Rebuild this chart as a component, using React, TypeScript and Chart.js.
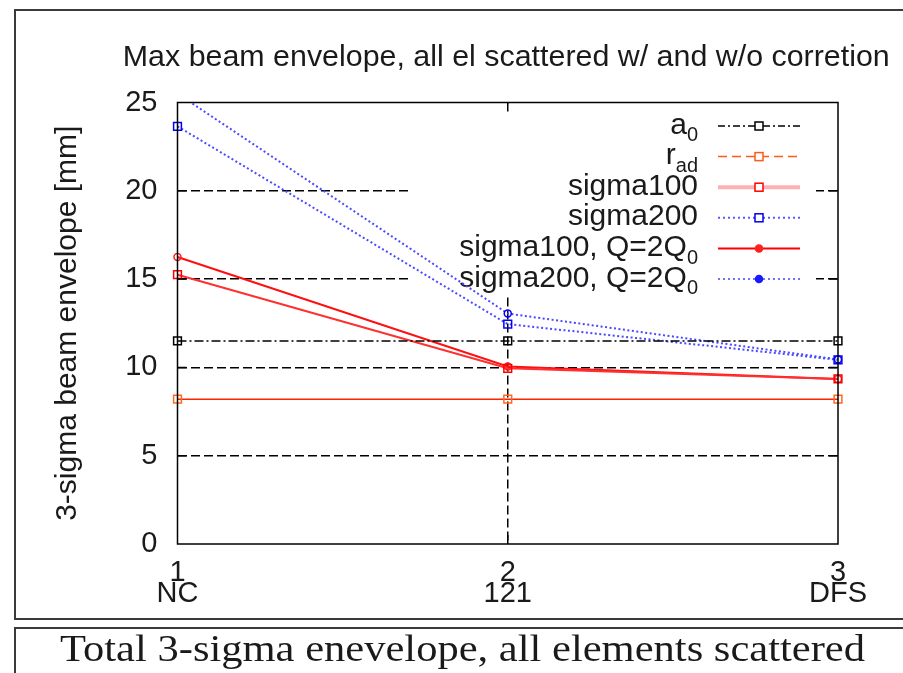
import React, { useEffect, useRef } from "react";
import { Chart, registerables } from "chart.js";

Chart.register(...registerables);

// ---- data ----
const categories = ["NC", "121", "DFS"];
const indexLabels = ["1", "2", "3"];
const a0 = [11.5, 11.5, 11.5];
const rAd = [8.2, 8.2, 8.2];
const sigma100 = [15.25, 9.95, 9.35];
const sigma200 = [23.65, 12.45, 10.43];
const sigma100Q = [16.25, 10.05, 9.35];
const sigma200Q = [25.5, 13.05, 10.45];
const yMin = 0;
const yMax = 25;
const yStep = 5;
const titleText = "Max beam envelope, all el scattered w/ and w/o corretion";
const yTitleText = "3-sigma beam envelope [mm]";
const captionText = "Total 3-sigma enevelope, all elements scattered";
const legendMain = ["a", "r", "sigma100", "sigma200", "sigma100, Q=2Q", "sigma200, Q=2Q"];
const legendSub = ["0", "ad", "", "", "0", "0"];

const FONT = "'Liberation Sans', Arial, Helvetica, sans-serif";
const SERIF = "'Liberation Serif', 'Times New Roman', serif";

type Sample = { line: string; width: number; dash: number[]; marker: string; shape: "rect" | "circle"; fill: boolean };
const legendSamples: Sample[] = [
  { line: "#000000", width: 1.5, dash: [7, 3, 2, 3], marker: "#000000", shape: "rect", fill: false },
  { line: "#ff5a1a", width: 1.5, dash: [9, 5], marker: "#ff5a1a", shape: "rect", fill: false },
  { line: "#ffb0b0", width: 4, dash: [], marker: "#ff0000", shape: "rect", fill: false },
  { line: "#5a5aff", width: 2, dash: [2, 3], marker: "#0000ee", shape: "rect", fill: false },
  { line: "#ff0000", width: 2, dash: [], marker: "#ff2020", shape: "circle", fill: true },
  { line: "#7070ff", width: 2, dash: [2, 3], marker: "#1a1aff", shape: "circle", fill: true },
];

const decorPlugin = {
  id: "decor",
  beforeDatasetsDraw(chart: any) {
    const { ctx, chartArea } = chart;
    const ca = chartArea;
    ctx.save();
    // opaque key box
    ctx.fillStyle = "#ffffff";
    ctx.fillRect(ca.left + 230.5, ca.top + 1, 408, 296 - ca.top);
    const rowY0 = ca.top + 23.5;
    const rowGap = 30.6;
    const textRight = ca.right - 140;
    const lx0 = ca.right - 120;
    const lx1 = ca.right - 38;
    const mx = ca.right - 79;
    for (let i = 0; i < legendMain.length; i++) {
      const y = rowY0 + i * rowGap;
      const main = legendMain[i];
      const sub = legendSub[i];
      ctx.font = `30px ${FONT}`;
      const wMain = ctx.measureText(main).width;
      ctx.font = `20px ${FONT}`;
      const wSub = sub ? ctx.measureText(sub).width : 0;
      const x0 = textRight - wMain - wSub;
      ctx.fillStyle = "#1a1a1a";
      ctx.textAlign = "left";
      ctx.textBaseline = "alphabetic";
      ctx.font = `30px ${FONT}`;
      ctx.fillText(main, x0, y + 7.5);
      if (sub) {
        ctx.font = `20px ${FONT}`;
        ctx.fillText(sub, x0 + wMain, y + 15.2);
      }
      const s = legendSamples[i];
      ctx.strokeStyle = s.line;
      ctx.lineWidth = s.width;
      ctx.setLineDash(s.dash);
      ctx.beginPath();
      ctx.moveTo(lx0, y);
      ctx.lineTo(lx1, y);
      ctx.stroke();
      ctx.setLineDash([]);
      ctx.lineWidth = 1.5;
      ctx.strokeStyle = s.marker;
      ctx.fillStyle = s.marker;
      if (s.shape === "rect") {
        ctx.fillStyle = "#ffffff";
        ctx.fillRect(mx - 4, y - 4, 8, 8);
        ctx.strokeRect(mx - 4, y - 4, 8, 8);
      } else {
        ctx.beginPath();
        ctx.arc(mx, y, 3.5, 0, Math.PI * 2);
        if (s.fill) ctx.fill();
        ctx.stroke();
      }
    }
    ctx.restore();
  },
  afterDatasetsDraw(chart: any) {
    const { ctx, chartArea, scales } = chart;
    const ca = chartArea;
    ctx.save();
    ctx.strokeStyle = "#000000";
    ctx.lineWidth = 1.5;
    ctx.setLineDash([]);
    ctx.strokeRect(ca.left, ca.top, ca.right - ca.left, ca.bottom - ca.top);
    const tl = 9;
    ctx.beginPath();
    scales.y.ticks.forEach((t: any) => {
      if (t.value <= yMin || t.value >= yMax) return;
      const py = scales.y.getPixelForValue(t.value);
      ctx.moveTo(ca.left, py);
      ctx.lineTo(ca.left + tl, py);
      ctx.moveTo(ca.right, py);
      ctx.lineTo(ca.right - tl, py);
    });
    for (let i = 1; i < categories.length - 1; i++) {
      const px = scales.x.getPixelForValue(i);
      ctx.moveTo(px, ca.top);
      ctx.lineTo(px, ca.top + tl);
      ctx.moveTo(px, ca.bottom);
      ctx.lineTo(px, ca.bottom - tl);
    }
    ctx.stroke();
    ctx.restore();
  },
  afterDraw(chart: any) {
    const { ctx, chartArea } = chart;
    ctx.save();
    // chart title, centred over the plot area
    ctx.font = `30.4px ${FONT}`;
    ctx.fillStyle = "#1a1a1a";
    ctx.textAlign = "center";
    ctx.textBaseline = "alphabetic";
    ctx.fillText(titleText, (chartArea.left + chartArea.right) / 2 - 1.5, 66);
    // page frames
    ctx.fillStyle = "#3a3a3a";
    ctx.fillRect(14, 9, 903, 2);
    ctx.fillRect(14, 9, 2, 611);
    ctx.fillRect(14, 618, 903, 2);
    ctx.fillRect(14, 627, 903, 2);
    ctx.fillRect(14, 627, 2, 60);
    // caption
    ctx.font = `37px ${SERIF}`;
    const w = ctx.measureText(captionText).width;
    const target = 805;
    const sx = target / w;
    ctx.translate(462.5 - target / 2, 661);
    ctx.scale(sx, 1);
    ctx.fillStyle = "#1a1a1a";
    ctx.textAlign = "left";
    ctx.textBaseline = "alphabetic";
    ctx.fillText(captionText, 0, 0);
    ctx.restore();
  },
};

export default function App() {
  const ref = useRef<HTMLCanvasElement | null>(null);
  useEffect(() => {
    if (!ref.current) return;
    const labels = categories.map((c, i) => [indexLabels[i], c]);
    const chart = new Chart(ref.current, {
      type: "line",
      data: {
        labels,
        datasets: [
          {
            label: "a0",
            data: a0,
            borderColor: "#000000",
            borderWidth: 1.5,
            borderDash: [9, 3, 2, 3],
            pointStyle: "rect",
            pointRadius: 5.5,
            pointBorderWidth: 1.5,
            pointBorderColor: "#000000",
            pointBackgroundColor: "rgba(255,255,255,0)",
            fill: false,
          },
          {
            label: "r_ad",
            data: rAd,
            borderColor: "#ff2200",
            borderWidth: 1.5,
            pointStyle: "rect",
            pointRadius: 5.5,
            pointBorderWidth: 1.5,
            pointBorderColor: "#ff6a20",
            pointBackgroundColor: "rgba(255,255,255,0)",
            fill: false,
          },
          {
            label: "sigma100",
            data: sigma100,
            borderColor: "#ff3030",
            borderWidth: 2,
            pointStyle: "rect",
            pointRadius: 5.5,
            pointBorderWidth: 1.5,
            pointBorderColor: "#ff0000",
            pointBackgroundColor: "rgba(255,255,255,0)",
            fill: false,
          },
          {
            label: "sigma200",
            data: sigma200,
            borderColor: "#4a4aff",
            borderWidth: 2,
            borderDash: [2, 2.5],
            pointStyle: "rect",
            pointRadius: 5.5,
            pointBorderWidth: 1.5,
            pointBorderColor: "#0000ff",
            pointBackgroundColor: "rgba(255,255,255,0)",
            fill: false,
          },
          {
            label: "sigma100, Q=2Q0",
            data: sigma100Q,
            borderColor: "#ff1010",
            borderWidth: 2,
            pointStyle: "circle",
            pointRadius: 3.5,
            pointBorderWidth: 1.5,
            pointBorderColor: "#ff2020",
            pointBackgroundColor: "rgba(255,255,255,0)",
            fill: false,
          },
          {
            label: "sigma200, Q=2Q0",
            data: sigma200Q,
            borderColor: "#4a4aff",
            borderWidth: 2,
            borderDash: [2, 2.5],
            pointStyle: "circle",
            pointRadius: 3.5,
            pointBorderWidth: 1.5,
            pointBorderColor: "#0000ff",
            pointBackgroundColor: "rgba(255,255,255,0)",
            fill: false,
          },
        ],
      },
      options: {
        responsive: false,
        animation: false,
        devicePixelRatio: 1,
        layout: { padding: { left: 14, right: 65, top: 102.5, bottom: 54 } },
        plugins: {
          legend: { display: false },
          tooltip: { enabled: false },
          title: { display: false },
        },
        scales: {
          x: {
            type: "category",
            offset: false,
            grid: {
              color: (c: any) => (c.index === 0 || c.index === categories.length - 1 ? "rgba(0,0,0,0)" : "#000000"),
              lineWidth: 1.5,
              drawTicks: false,
              tickLength: 0,
            },
            border: { display: false, dash: [9, 4] },
            ticks: {
              color: "#1a1a1a",
              font: { size: 29, family: FONT, lineHeight: 0.72 },
              padding: 18.5,
              autoSkip: false,
              maxRotation: 0,
              minRotation: 0,
            },
            afterFit: (s: any) => {
              s.height = 75;
            },
          },
          y: {
            type: "linear",
            min: yMin,
            max: yMax,
            grid: {
              color: (c: any) => (c.tick && (c.tick.value <= yMin || c.tick.value >= yMax) ? "rgba(0,0,0,0)" : "#000000"),
              lineWidth: 1.5,
              drawTicks: false,
              tickLength: 0,
            },
            border: { display: false, dash: [9, 4] },
            ticks: {
              stepSize: yStep,
              color: "#1a1a1a",
              font: { size: 29, family: FONT },
              padding: 20,
            },
            title: {
              display: true,
              text: yTitleText,
              color: "#1a1a1a",
              font: { size: 30, family: FONT, lineHeight: 1.2 },
              padding: { top: 35.5, bottom: 0 },
            },
            afterFit: (s: any) => {
              s.width = 163.5;
            },
          },
        },
      },
      plugins: [decorPlugin],
    });
    return () => chart.destroy();
  }, []);
  return (
    <div style={{ position: "absolute", left: 0, top: 0, width: 903, height: 673, overflow: "hidden", background: "#fff" }}>
      <canvas ref={ref} width={903} height={673} style={{ width: 903, height: 673, display: "block" }} />
    </div>
  );
}
